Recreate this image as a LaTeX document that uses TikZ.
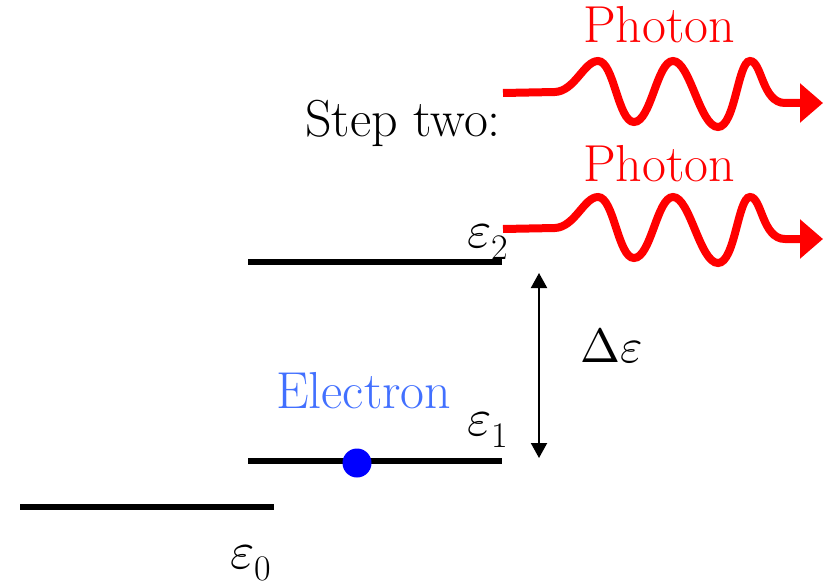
\documentclass[tikz,border=0pt]{standalone}
\usetikzlibrary{arrows.meta}
\definecolor{photonred}{RGB}{255,0,0}
\definecolor{eblue}{RGB}{66,112,255}
\definecolor{dotblue}{RGB}{0,0,255}
\tikzset{
  level/.style={line width=6pt},
  lbl/.style={inner sep=0pt, anchor=base west, font=\fontsize{52}{60}\selectfont},
  wave/.style={photonred, line width=8pt, -{Triangle[length=23pt,width=38pt]}},
  darrow/.style={line width=2pt, {Triangle[length=15pt,width=16pt]}-{Triangle[length=15pt,width=16pt]}}
}
\newcommand{\bigmath}[2][5.2]{{\normalsize\scalebox{#1}{$#2$}}}
\newcommand{\eps}[1]{\bigmath{\varepsilon}\raisebox{-12pt}{\fontsize{36}{40}\selectfont #1}}
\begin{document}
\begin{tikzpicture}[x=1pt,y=-1pt]
\useasboundingbox (0,0) rectangle (834,588);
% energy levels
\coordinate (l0a) at (20,507); \coordinate (l0b) at (274,507);
\coordinate (l1a) at (248,461); \coordinate (l1b) at (502,461);
\coordinate (l2a) at (248,262); \coordinate (l2b) at (502,262);
\draw[level] (l0a) -- (l0b);
\draw[level] (l1a) -- (l1b);
\draw[level] (l2a) -- (l2b);
% labels
\node[lbl] (e0) at (230,568) {\eps{0}};
\node[lbl] (e1) at (467,435) {\eps{1}};
\node[lbl] (e2) at (467,247) {\eps{2}};
\node[lbl] (de) at (580,362) {\bigmath[4.8]{\Delta\varepsilon}};
\node[lbl, text=eblue] (el) at (276,408) {Electron};
\node[lbl] (st) at (305,137) {Step two:};
\node[lbl, text=photonred] (ph1) at (583,43) {Photon};
\node[lbl, text=photonred] (ph2) at (583,182) {Photon};
% electron
\node[circle, fill=dotblue, minimum size=29pt, inner sep=0pt] (dot) at (357,463) {};
% energy gap arrow
\coordinate (gt) at (539,273); \coordinate (gb) at (539,458);
\draw[darrow] (gt) -- (gb);
% photons
\foreach \dy/\nm in {0/a,136/b}{
  \begin{scope}[yshift=-\dy pt]
  \coordinate (ws\nm) at (503,93);
  \coordinate (we\nm) at (823,103);
  \draw[wave] (ws\nm) -- (555,92) .. controls (575,91) and (584,61) .. (598,61)
     .. controls (614,61) and (618,122) .. (634,122)
     .. controls (651,122) and (657,61) .. (673,61)
     .. controls (690,61) and (700,127) .. (718,127)
     .. controls (735,127) and (738,61) .. (750,61)
     .. controls (762,61) and (762,103) .. (785,103) -- (we\nm);
  \end{scope}
}
\end{tikzpicture}
\end{document}
